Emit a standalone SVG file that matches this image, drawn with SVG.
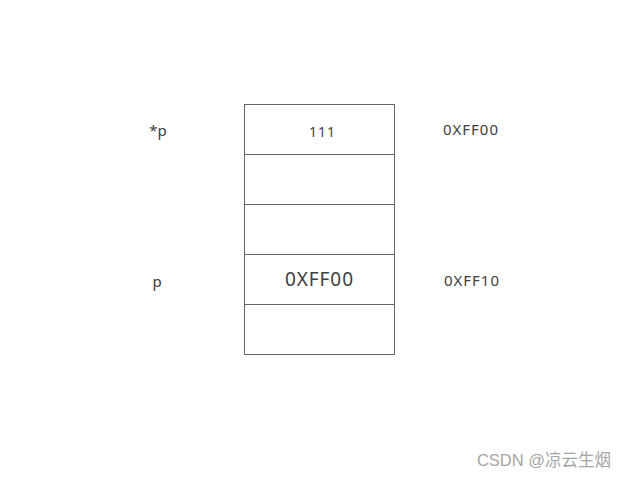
<svg xmlns="http://www.w3.org/2000/svg" width="626" height="478" viewBox="0 0 626 478">
<style>
.cell{fill:#fff;stroke:#666;stroke-width:1}
.t{font-family:"Noto Sans","Open Sans","Liberation Sans",sans-serif;fill:#404040;text-anchor:middle;dominant-baseline:central}
.s14{font-size:14px}
.s15{font-size:15px}
.s18{font-size:19px}
.wm{font-family:"Liberation Sans","Noto Sans CJK SC",sans-serif;font-size:16.5px;fill:#a6a6a6;text-anchor:end;dominant-baseline:central}
</style>
<rect width="626" height="478" fill="#fff"/>
<g id="cell1"><rect class="cell" x="244.5" y="104.5" width="150" height="50"/><text class="t s14" x="322" y="131" textLength="26" lengthAdjust="spacing">111</text></g>
<g id="cell2"><rect class="cell" x="244.5" y="154.5" width="150" height="50"/></g>
<g id="cell3"><rect class="cell" x="244.5" y="204.5" width="150" height="50"/></g>
<g id="cell4"><rect class="cell" x="244.5" y="254.5" width="150" height="50"/><text class="t s18" x="319" y="279" textLength="68" lengthAdjust="spacing">0XFF00</text></g>
<g id="cell5"><rect class="cell" x="244.5" y="304.5" width="150" height="50"/></g>
<g id="labels">
<text class="t s15" x="158" y="130">*p</text>
<text class="t s15" x="157" y="281">p</text>
<text class="t s15" x="470.5" y="129" textLength="55" lengthAdjust="spacing">0XFF00</text>
<text class="t s15" x="471.5" y="280" textLength="55" lengthAdjust="spacing">0XFF10</text>
</g>
<g id="connectors"></g>
<text class="wm" x="611" y="460">CSDN @凉云生烟</text>
</svg>
